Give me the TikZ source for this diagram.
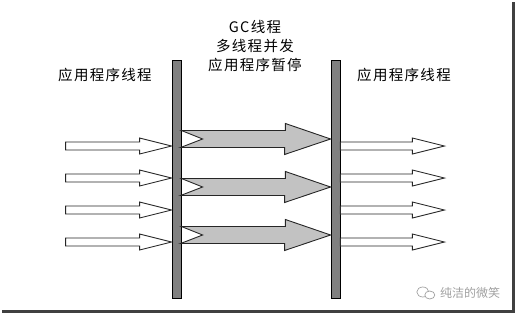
\documentclass[tikz,border=0pt]{standalone}
\usepackage{fontspec}
\setmainfont{Noto Sans CJK SC}
\newfontfamily\spacedcjk[LetterSpace=9]{Noto Sans CJK SC}
\usepackage{tikz}
\usetikzlibrary{positioning}

\definecolor{barGray}{RGB}{128,128,128}
\definecolor{flowGray}{RGB}{194,194,194}
\definecolor{frameGray}{RGB}{64,64,64}
\definecolor{markGray}{RGB}{160,160,160}

\begin{document}
\begin{tikzpicture}[x=1pt, y=-1pt, line join=miter,
		bar/.style={draw=black, fill=barGray, line width=0.8pt, minimum width=9pt, minimum height=238pt, inner sep=0pt},
		caption/.style={font=\spacedcjk\fontsize{14.5}{19}\selectfont, align=center},
		hollow/.style={draw=black!85, fill=white, line width=0.9pt},
		flow/.style={draw=black!85, fill=flowGray, line width=0.9pt}]
	\useasboundingbox (0,0) rectangle (517,316);

	\node[bar] (lbar) at (176.5,179) {};
	\node[bar] (rbar) at (335.5,179) {};

	\node[caption] (app1) at (105,75) {应用程序线程};
	\node[caption] (gc) at (255,46) {GC线程\\多线程并发\\应用程序暂停};
	\node[caption] (app2) at (404,75) {应用程序线程};

	% threads coming in and going out
	\foreach \y in {146,178,210,242} {
		\draw[hollow] (lbar.west |- 0,\y) -- ++(-32,-8) -- ++(0,4) -- ++(-74,0) -- ++(0,8) -- ++(74,0) -- ++(0,4) -- cycle;
		\draw[hollow] (rbar.east |- 0,\y) ++(0,-4) -- ++(72,0) -- ++(0,-4) -- ++(32,8) -- ++(-32,8) -- ++(0,-4) -- ++(-72,0) -- cycle;
	}

	% gc threads
	\foreach \y in {139,187,235} {
		\draw[flow] (lbar.east |- 0,\y) ++(0,-8.5) -- ++(104,0) -- ++(0,-7) -- (rbar.west |- 0,\y) -- ++(-46,15.5) -- ++(0,-7) -- ++(-104,0) -- ++(22,-8.5) -- cycle;
	}

	% frame
	\draw[frameGray, line width=3.5pt] (2,311.5) -- (513.5,311.5) -- (513.5,2);

	\node[font=\fontsize{12}{12}\selectfont, text=markGray, inner sep=0pt] (mark) at (470,293) {纯洁的微笑};
	\draw[markGray, line width=0.7pt] ([xshift=-17pt,yshift=1pt]mark.west) ellipse (6 and 5);
	\draw[markGray, line width=0.7pt, fill=white] ([xshift=-10pt,yshift=-2pt]mark.west) ellipse (5 and 4);
\end{tikzpicture}
\end{document}
